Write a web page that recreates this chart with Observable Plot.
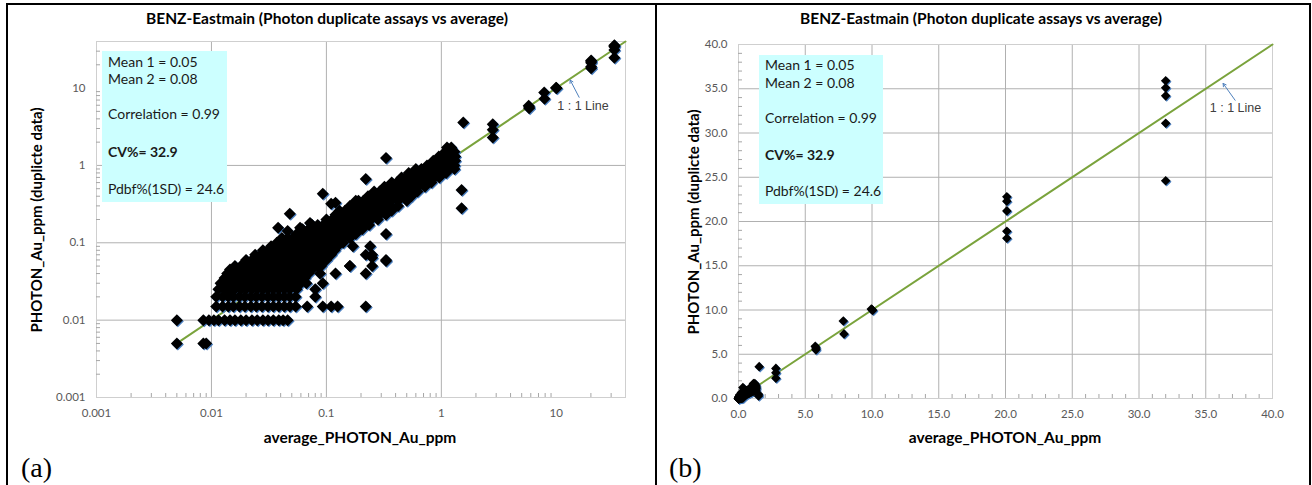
<!DOCTYPE html>
<html>
<head>
<meta charset="utf-8">
<script src="https://cdn.jsdelivr.net/npm/d3@7"></script>
<script src="https://cdn.jsdelivr.net/npm/@observablehq/plot@0.6"></script>
<style>
  html, body { margin: 0; padding: 0; background: #fff; }
  body { width: 1312px; height: 485px; position: relative; overflow: hidden; font-family: Lato, "Open Sans", sans-serif; }
  .abs { position: absolute; }
  .vline { position: absolute; background: #000; width: 2px; top: 3px; height: 500px; }
  .hline { position: absolute; background: #000; height: 2px; top: 3px; left: 6px; width: 1305px; }
  .title { position: absolute; top: 9px; width: 500px; text-align: center; font-weight: bold; font-size: 15.5px; color: #000; line-height: 18px; white-space: nowrap; }
  .xlab { position: absolute; top: 428px; width: 400px; text-align: center; font-weight: bold; font-size: 15.5px; color: #000; line-height: 18px; white-space: nowrap; }
  .ylab { position: absolute; width: 400px; text-align: center; font-weight: bold; font-size: 15px; color: #000; line-height: 18px; white-space: nowrap; transform: rotate(-90deg); transform-origin: center center; }
  .box { position: absolute; background: #ccffff; }
  .box div { position: absolute; left: 6px; font-size: 14px; line-height: 18px; color: #1a1a1a; white-space: nowrap; }
  .tag { position: absolute; font-family: "Liberation Serif", "Times New Roman", serif; font-size: 28px; line-height: 30px; color: #000; }
</style>
</head>
<body>
<div class="hline"></div>
<div class="vline" style="left:6px"></div>
<div class="vline" style="left:655px"></div>
<div class="vline" style="left:1309px"></div>

<div id="left" class="abs" style="left:8px; top:5px"></div>
<div id="right" class="abs" style="left:660px; top:5px"></div>

<div class="title" style="left:77px">BENZ-Eastmain (Photon duplicate assays vs average)</div>
<div class="title" style="left:731px">BENZ-Eastmain (Photon duplicate assays vs average)</div>

<div class="xlab" style="left:160px">average_PHOTON_Au_ppm</div>
<div class="xlab" style="left:805px">average_PHOTON_Au_ppm</div>

<div class="ylab" style="left:-164px; top:211px">PHOTON_Au_ppm (duplicte data)</div>
<div class="ylab" style="left:493px; top:213px">PHOTON_Au_ppm (duplicte data)</div>

<div class="box" style="left:102px; top:51px; width:125px; height:151px">
  <div style="top:2px">Mean 1 = 0.05</div>
  <div style="top:19px">Mean 2 = 0.08</div>
  <div style="top:54px">Correlation = 0.99</div>
  <div style="top:92px; font-weight:bold">CV%= 32.9</div>
  <div style="top:129px">Pdbf%(1SD) = 24.6</div>
</div>
<div class="box" style="left:759px; top:55px; width:124px; height:149px">
  <div style="top:1px">Mean 1 = 0.05</div>
  <div style="top:19px">Mean 2 = 0.08</div>
  <div style="top:54px">Correlation = 0.99</div>
  <div style="top:91px; font-weight:bold">CV%= 32.9</div>
  <div style="top:127px">Pdbf%(1SD) = 24.6</div>
</div>

<div class="tag" style="left:21px; top:453px">(a)</div>
<div class="tag" style="left:669px; top:453px">(b)</div>

<script>
// ---------------- DATA ----------------
// duplicate assay levels (ppm) and the averages observed at each level
const dupLevels = [0.005, 0.01, 0.015, 0.02, 0.025, 0.03, 0.035, 0.04, 0.045, 0.05, 0.06, 0.07, 0.08, 0.09, 0.1, 0.115, 0.13, 0.15, 0.17, 0.2, 0.23, 0.26, 0.3, 0.35, 0.4, 0.46, 0.53, 0.6, 0.7, 0.8, 0.9, 1.0, 1.15, 1.3, 1.5, 1.7];
const avgByLevel = [
  [0.005, 0.0085, 0.009],
  [0.005, 0.0085, 0.0095, 0.0105, 0.0115, 0.013, 0.0145, 0.016, 0.018, 0.02, 0.0225, 0.025, 0.028, 0.031, 0.0345, 0.0385, 0.042, 0.046],
  [0.011, 0.0125, 0.014, 0.0155, 0.0175, 0.0195, 0.022, 0.0245, 0.0275, 0.031, 0.0345, 0.0385, 0.043, 0.048, 0.054, 0.068, 0.093, 0.11, 0.125, 0.22],
  [0.011, 0.0125, 0.014, 0.0155, 0.0175, 0.0195, 0.022, 0.0245, 0.0275, 0.031, 0.0345, 0.0385, 0.043, 0.048, 0.054, 0.08],
  [0.0115, 0.013, 0.0145, 0.016, 0.018, 0.02, 0.0225, 0.025, 0.028, 0.031, 0.0345, 0.0385, 0.043, 0.048, 0.055, 0.08],
  [0.012, 0.0135, 0.015, 0.017, 0.019, 0.021, 0.0235, 0.026, 0.029, 0.0325, 0.036, 0.04, 0.045, 0.05, 0.056, 0.06, 0.067, 0.093],
  [0.013, 0.0145, 0.016, 0.018, 0.02, 0.0225, 0.025, 0.028, 0.031, 0.0345, 0.0385, 0.043, 0.048, 0.054, 0.06, 0.065],
  [0.0137, 0.0155, 0.0175, 0.0195, 0.022, 0.0245, 0.0275, 0.031, 0.0345, 0.0385, 0.043, 0.048, 0.054, 0.06, 0.07, 0.088, 0.12, 0.22],
  [0.0145, 0.016, 0.018, 0.02, 0.0225, 0.025, 0.028, 0.031, 0.0345, 0.0385, 0.043, 0.048, 0.054, 0.06, 0.067, 0.075],
  [0.016, 0.018, 0.02, 0.0225, 0.025, 0.028, 0.031, 0.0345, 0.0385, 0.043, 0.048, 0.054, 0.06, 0.067, 0.075, 0.084, 0.09, 0.16, 0.25],
  [0.02, 0.0225, 0.025, 0.028, 0.031, 0.0345, 0.0385, 0.043, 0.048, 0.054, 0.06, 0.067, 0.075, 0.084, 0.094, 0.1, 0.33],
  [0.024, 0.027, 0.03, 0.0335, 0.0375, 0.042, 0.047, 0.052, 0.058, 0.065, 0.073, 0.082, 0.092, 0.103, 0.11, 0.22, 0.25],
  [0.028, 0.031, 0.0345, 0.0385, 0.043, 0.048, 0.054, 0.06, 0.067, 0.075, 0.084, 0.094, 0.105, 0.118],
  [0.033, 0.037, 0.041, 0.046, 0.051, 0.057, 0.064, 0.071, 0.08, 0.089, 0.1, 0.112, 0.125, 0.17, 0.24],
  [0.037, 0.041, 0.046, 0.051, 0.057, 0.064, 0.071, 0.08, 0.089, 0.1, 0.112, 0.125, 0.14],
  [0.041, 0.046, 0.051, 0.057, 0.064, 0.071, 0.08, 0.089, 0.1, 0.112, 0.125, 0.14, 0.16],
  [0.055, 0.061, 0.068, 0.076, 0.085, 0.095, 0.106, 0.118, 0.132, 0.148, 0.165, 0.18, 0.33],
  [0.062, 0.07, 0.078, 0.087, 0.097, 0.108, 0.12, 0.134, 0.15, 0.168, 0.188, 0.205],
  [0.075, 0.084, 0.094, 0.105, 0.118, 0.132, 0.148, 0.165, 0.185, 0.21, 0.235],
  [0.1, 0.112, 0.125, 0.14, 0.157, 0.175, 0.195, 0.22, 0.245, 0.28],
  [0.12, 0.134, 0.15, 0.168, 0.188, 0.21, 0.235, 0.26, 0.29, 0.33],
  [0.13, 0.145, 0.162, 0.181, 0.2, 0.225, 0.25, 0.28, 0.315, 0.37],
  [0.16, 0.178, 0.2, 0.225, 0.25, 0.28, 0.315, 0.355, 0.42],
  [0.19, 0.21, 0.235, 0.265, 0.295, 0.33, 0.37, 0.42, 0.5],
  [0.23, 0.26, 0.29, 0.325, 0.365, 0.41, 0.46, 0.55],
  [0.26, 0.29, 0.325, 0.365, 0.41, 0.46, 0.52, 0.62],
  [0.32, 0.36, 0.4, 0.45, 0.5, 0.56, 0.63, 0.72],
  [0.37, 0.41, 0.46, 0.52, 0.58, 0.65, 0.73, 0.82],
  [0.45, 0.5, 0.56, 0.63, 0.7, 0.78, 0.87, 0.96],
  [0.52, 0.58, 0.65, 0.73, 0.82, 0.92, 1.03, 1.1],
  [0.6, 0.67, 0.75, 0.84, 0.94, 1.05, 1.17, 1.3],
  [0.75, 0.84, 0.94, 1.05, 1.17, 1.3],
  [0.85, 0.95, 1.06, 1.18, 1.32],
  [0.95, 1.06, 1.18, 1.32],
  [1.08, 1.2, 1.3],
  [1.12, 1.22]
];
// scattered / high-grade pairs (average, duplicate)
const extraAvg = [0.048, 0.038, 0.046, 0.059, 0.072, 0.093, 0.12, 0.11, 0.18, 0.22, 0.33, 1.55, 1.5, 1.5, 0.33, 0.25, 0.16, 2.8, 2.8, 2.8, 5.75, 5.8, 5.8, 7.85, 7.9, 10.0, 10.05, 9.95, 20.1, 20.1, 20.1, 20.1, 20.1, 32.0, 32.0, 32.0, 32.0, 32.0];
const extraDup = [0.237, 0.156, 0.142, 0.156, 0.18, 0.43, 0.33, 0.32, 0.35, 0.67, 1.25, 3.6, 0.48, 0.28, 0.058, 0.064, 0.05, 3.4, 2.9, 2.3, 5.9, 5.7, 5.5, 8.75, 7.3, 10.05, 9.95, 10.1, 22.8, 22.3, 21.2, 18.9, 18.1, 35.9, 35.1, 34.2, 31.1, 24.6];
// 1:1 reference line
const oneToOne = [0.005, 40];
// tick labels
const logMajor = [0.001, 0.01, 0.1, 1, 10];
const logMinor = [0.002, 0.003, 0.004, 0.005, 0.006, 0.007, 0.008, 0.009, 0.02, 0.03, 0.04, 0.05, 0.06, 0.07, 0.08, 0.09, 0.2, 0.3, 0.4, 0.5, 0.6, 0.7, 0.8, 0.9, 2, 3, 4, 5, 6, 7, 8, 9, 20, 30];
const linMajor = [0, 5, 10, 15, 20, 25, 30, 35, 40];
const linMinor = [1, 2, 3, 4, 6, 7, 8, 9, 11, 12, 13, 14, 16, 17, 18, 19, 21, 22, 23, 24, 26, 27, 28, 29, 31, 32, 33, 34, 36, 37, 38, 39];
// "1 : 1 Line" callouts: [labelX, labelY, tailX, tailY, headX, headY]
const noteLog = [10.2, 5.9, 15.8, 7.6, 13.2, 12.7];
const noteLin = [35.3, 32.8, 37.2, 33.7, 36.3, 35.6];
const noteText = "1 : 1 Line";

// ---------------- BUILD ----------------
const points = [];
dupLevels.forEach((d, i) => avgByLevel[i].forEach(a => points.push({avg: a, dup: d})));
extraAvg.forEach((a, i) => points.push({avg: a, dup: extraDup[i]}));
const lineData = oneToOne.map(v => ({avg: v, dup: v}));

const diamond = {
  draw(ctx, size) {
    const h = Math.sqrt(size / Math.PI);
    ctx.moveTo(0, -h); ctx.lineTo(h, 0); ctx.lineTo(0, h); ctx.lineTo(-h, 0); ctx.closePath();
  }
};

const GRID = "#b0b0b0", FRAME = "#cfcfcf", TICK = "#a6a6a6", GREEN = "#7aa33c", ARROW = "#4f81bd";

function panel({width, height, margins, xOpt, yOpt, major, minor, fmt, r, note}) {
  const inner = major.filter(v => v !== major[0] && v !== major[major.length - 1]);
  return Plot.plot({
    width, height, ...margins,
    x: {...xOpt, label: null},
    y: {...yOpt, label: null},
    style: {fontFamily: "Lato, 'Open Sans', sans-serif", fontSize: "11.5px", color: "#595959", background: "transparent", overflow: "visible"},
    marks: [
      Plot.gridX(inner, {stroke: GRID, strokeOpacity: 1}),
      Plot.gridY(inner, {stroke: GRID, strokeOpacity: 1}),
      Plot.frame({stroke: FRAME}),
      Plot.axisX(minor, {tickSize: 4, dy: -4, tickFormat: () => "", stroke: TICK, label: null}),
      Plot.axisY(minor, {tickSize: 4, dx: 4, tickFormat: () => "", stroke: TICK, label: null}),
      Plot.axisX(major, {tickSize: 0, tickPadding: 11, tickFormat: fmt, label: null}),
      Plot.axisY(major, {tickSize: 0, tickPadding: 11, tickFormat: fmt, label: null}),
      Plot.line(lineData, {x: "avg", y: "dup", stroke: GREEN, strokeWidth: 2}),
      Plot.dot(points, {x: "avg", y: "dup", symbol: diamond, r, fill: "#4a7fc0", dx: 1, dy: 1}),
      Plot.dot(points, {x: "avg", y: "dup", symbol: diamond, r, fill: "#000"}),
      Plot.arrow([note], {x1: d => d[2], y1: d => d[3], x2: d => d[4], y2: d => d[5], stroke: ARROW, strokeWidth: 1, headLength: 5}),
      Plot.text([note], {x: d => d[0], y: d => d[1], text: () => noteText, textAnchor: "start", fill: "#404040", fontFamily: "'Liberation Sans', Arial, sans-serif", fontSize: 12.5})
    ]
  });
}

document.getElementById("left").append(panel({
  width: 645, height: 445,
  margins: {marginLeft: 88, marginRight: 28, marginTop: 36, marginBottom: 53},
  xOpt: {type: "log", domain: [0.001, 40]},
  yOpt: {type: "log", domain: [0.001, 40]},
  major: logMajor, minor: logMinor, fmt: d => String(d), r: 6, note: noteLog
}));

document.getElementById("right").append(panel({
  width: 648, height: 445,
  margins: {marginLeft: 78, marginRight: 36, marginTop: 39, marginBottom: 52},
  xOpt: {type: "linear", domain: [0, 40]},
  yOpt: {type: "linear", domain: [0, 40]},
  major: linMajor, minor: linMinor, fmt: d3.format(".1f"), r: 4.8, note: noteLin
}));
</script>
</body>
</html>
